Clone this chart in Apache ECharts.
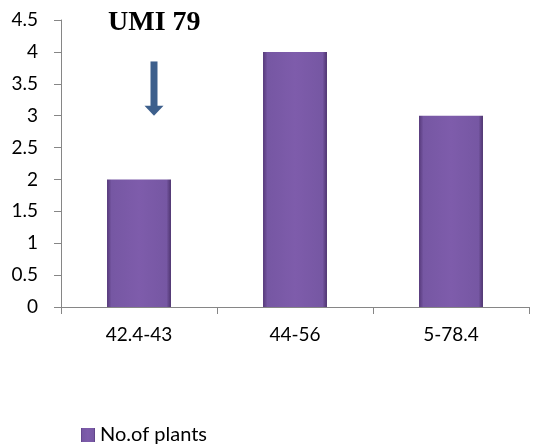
<!DOCTYPE html>
<html><head><meta charset="utf-8">
<script src="https://cdn.jsdelivr.net/npm/echarts@6/dist/echarts.min.js"></script>
<style>html,body{margin:0;padding:0;background:#fff}#c{width:548px;height:448px}</style>
</head><body><div id="c"></div>
<script>
const categories = ['42.4-43', '44-56', '5-78.4'];
const plantCounts = [2, 4, 3];
const yTicks = { min: 0, max: 4.5, interval: 0.5 };
const seriesName = 'No.of plants';
const annotationText = 'UMI 79';

const chart = echarts.init(document.getElementById('c'));
const barGrad = new echarts.graphic.LinearGradient(0, 0, 1, 0, [
  { offset: 0, color: '#56397a' },
  { offset: 0.07, color: '#7657a3' },
  { offset: 0.5, color: '#7e5cab' },
  { offset: 0.93, color: '#7657a3' },
  { offset: 1, color: '#4e346f' }
]);
chart.setOption({
  animation: false,
  grid: { left: 61, right: 19, top: 20, bottom: 141 },
  xAxis: {
    type: 'category', data: categories,
    axisLine: { lineStyle: { color: '#868686' } },
    axisTick: { show: true, length: 7, lineStyle: { color: '#868686' } },
    axisLabel: { color: '#000', fontFamily: 'Lato', fontSize: 19, margin: 18 }
  },
  yAxis: {
    type: 'value', min: yTicks.min, max: yTicks.max, interval: yTicks.interval,
    splitLine: { show: false },
    axisLine: { show: true, lineStyle: { color: '#868686' } },
    axisTick: { show: true, length: 7, lineStyle: { color: '#868686' } },
    axisLabel: { color: '#000', fontFamily: 'Lato', fontSize: 19, margin: 23 }
  },
  legend: {
    left: 76, top: 420, itemWidth: 14, itemHeight: 14, itemGap: 6,
    textStyle: { fontFamily: 'Lato', fontSize: 20, color: '#000' },
    data: [{ name: seriesName, icon: 'rect' }]
  },
  series: [{
    name: seriesName, type: 'bar', data: plantCounts, barWidth: '41%',
    itemStyle: { color: barGrad, shadowColor: 'rgba(0,0,0,0.35)', shadowBlur: 4, shadowOffsetX: 1, shadowOffsetY: 1 }
  }]
});

// annotation anchored via the chart's own scales
const p = chart.convertToPixel({ seriesIndex: 0 }, [0, 4.5]);
const a1 = chart.convertToPixel({ seriesIndex: 0 }, [0, 3.85]);
const a2 = chart.convertToPixel({ seriesIndex: 0 }, [0, 3.0]);
const cx = p[0] + 15;
chart.setOption({
  graphic: [
    { type: 'text', left: cx - 46, top: 9,
      style: { text: annotationText, font: 'bold 28px "Liberation Serif", "Times New Roman", serif', fill: '#000' } },
    { type: 'rect', shape: { x: cx - 3.5, y: a1[1], width: 7, height: (a2[1] - a1[1]) - 9 },
      style: { fill: '#3d5f8c' } },
    { type: 'polygon', shape: { points: [[cx - 9.5, a2[1] - 10], [cx + 9.5, a2[1] - 10], [cx, a2[1]]] },
      style: { fill: '#3d5f8c' } }
  ]
});
</script></body></html>
